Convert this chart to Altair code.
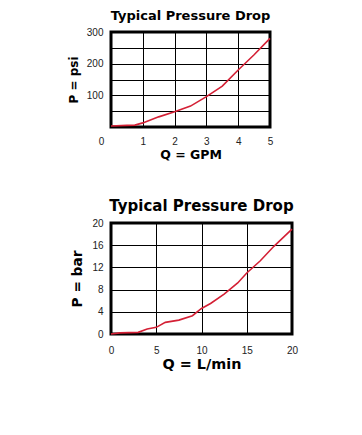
import altair as alt
import pandas as pd

# Top chart: pressure drop in psi vs flow in GPM
gpm_q = [0, 0.5, 0.75, 1, 1.5, 2, 2.5, 3, 3.5, 4, 4.5, 5]
gpm_p = [3, 5, 6, 13, 32, 48, 66, 96, 129, 180, 228, 280]

# Bottom chart: pressure drop in bar vs flow in L/min
lpm_q = [0, 1, 3, 4, 5, 6, 7.5, 9, 10, 11, 12.5, 14, 15, 16.5, 18, 20]
lpm_p = [0, 0.2, 0.3, 0.9, 1.2, 2.1, 2.5, 3.3, 4.6, 5.5, 7.2, 9.2, 11, 13.2, 15.8, 18.9]

title_text = "Typical Pressure Drop"
top_x_ticks = [0, 1, 2, 3, 4, 5]
top_y_ticks = [0, 50, 100, 150, 200, 250, 300]
bot_x_ticks = [0, 5, 10, 15, 20]
bot_y_ticks = [0, 4, 8, 12, 16, 20]

LINE = "#d42035"
BOLD = "DejaVu Sans"
LAB = "Liberation Sans"

top_df = pd.DataFrame({"Q": gpm_q, "P": gpm_p})
bot_df = pd.DataFrame({"Q": lpm_q, "P": lpm_p})

top = alt.Chart(top_df).mark_line(color=LINE, strokeWidth=1.6).encode(
    x=alt.X("Q:Q", scale=alt.Scale(domain=[0, 5], nice=False),
            axis=alt.Axis(values=top_x_ticks, title="Q = GPM", labelFlush=False,
                          labelOffset={"condition": {"test": "datum.value == 0", "value": -10}, "value": 0},
                          labelPadding=9, titlePadding=2, titleFontSize=12.5)),
    y=alt.Y("P:Q", scale=alt.Scale(domain=[0, 300], nice=False),
            axis=alt.Axis(values=top_y_ticks, title="P = psi",
                          labelExpr="datum.value % 100 == 0 && datum.value > 0 ? datum.label : ''",
                          labelPadding=8, titlePadding=6, titleFontSize=12)),
    order="Q:Q",
).properties(width=159, height=95,
             title=alt.TitleParams(title_text, fontSize=13, font=BOLD, fontWeight="bold", offset=4))

bot = alt.Chart(bot_df).mark_line(color=LINE, strokeWidth=1.6).encode(
    x=alt.X("Q:Q", scale=alt.Scale(domain=[0, 20], nice=False),
            axis=alt.Axis(values=bot_x_ticks, title="Q = L/min", labelFlush=False,
                          labelPadding=11, titlePadding=2, titleFontSize=14.4)),
    y=alt.Y("P:Q", scale=alt.Scale(domain=[0, 20], nice=False),
            axis=alt.Axis(values=bot_y_ticks, title="P = bar",
                          labelPadding=8, titlePadding=7, titleFontSize=13.7)),
    order="Q:Q",
).properties(width=181, height=111,
             title=alt.TitleParams(title_text, fontSize=15, font=BOLD, fontWeight="bold", offset=4))

chart = alt.concat(top, bot, columns=1, spacing=35, align="none").properties(
    padding={"left": 57, "top": 0, "right": 5, "bottom": 5}
).configure_view(
    stroke="black", strokeWidth=3
).configure_axis(
    domain=False, ticks=False, grid=True, gridColor="black", gridWidth=1, gridOpacity=1,
    labelFont=LAB, labelFontSize=10, labelColor="#222",
    titleFont=BOLD, titleFontWeight="bold", titleColor="black",
).configure_axisX(labelAngle=0).configure_title(anchor="middle", color="black")

chart.save("out.html", embed_options={"renderer": "svg", "actions": False})
